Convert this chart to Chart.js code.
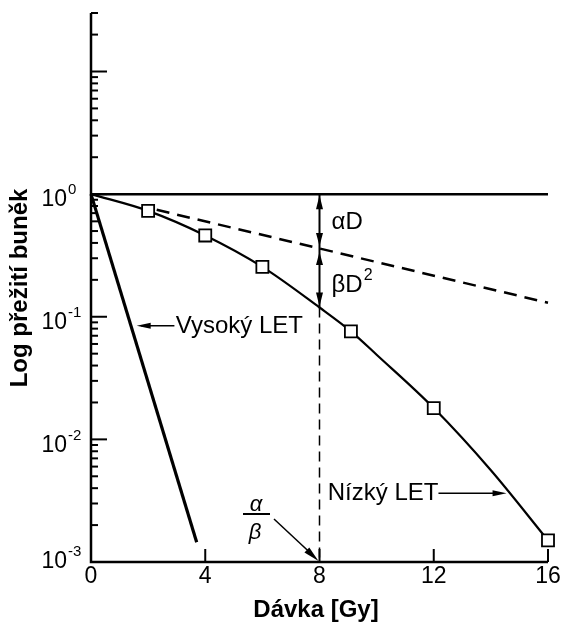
<!DOCTYPE html>
<html>
<head>
<meta charset="utf-8">
<script src="https://cdn.jsdelivr.net/npm/chart.js@4"></script>
<style>
  body { margin: 0; background: #fff; }
  #wrap { width: 562px; height: 622px; }
</style>
</head>
<body>
<div id="wrap"><canvas id="grafico"></canvas></div>
<script>
// Data
const horizX = [0, 16];
const horizY = [1, 1];
const highLetX = [0, 3.7];
const highLetY = [1, 0.00145];
const alphaOnlyX = [2.3, 16];
const alphaOnlyY = [0.745, 0.13];
const lowLetX = [0, 2, 4, 6, 8, 9.1, 10, 12, 14, 16];
const lowLetY = [1, 0.73, 0.46, 0.255, 0.119, 0.076, 0.049, 0.018, 0.0056, 0.0015];
const markerX = [2, 4, 6, 9.1, 12, 16];
const markerY = [0.73, 0.46, 0.255, 0.076, 0.018, 0.0015];
// dose where alpha D = beta D^2
const ratioDose = 8;
const ratioLevels = [1, 0.357, 0.119, 0.001];

const xTicks = [0, 4, 8, 12, 16];
const yExponents = [0, -1, -2, -3];
const xMin = 0, xMax = 16, yMin = 0.001, yMax = 30;

const FONT = '"Liberation Sans", Arial, sans-serif';

const pts = (xs, ys) => xs.map((v, i) => ({ x: v, y: ys[i] }));

function arrowHead(ctx, tx, ty, fx, fy, len, half) {
  const a = Math.atan2(ty - fy, tx - fx);
  ctx.beginPath();
  ctx.moveTo(tx, ty);
  ctx.lineTo(tx - len * Math.cos(a) + half * Math.sin(a), ty - len * Math.sin(a) - half * Math.cos(a));
  ctx.lineTo(tx - len * Math.cos(a) - half * Math.sin(a), ty - len * Math.sin(a) + half * Math.cos(a));
  ctx.closePath();
  ctx.fill();
}

const overlay = {
  id: 'overlay',
  afterDatasetsDraw(chart) {
    const { ctx, scales: { x, y } } = chart;
    const px = v => x.getPixelForValue(v);
    const py = v => y.getPixelForValue(v);
    ctx.save();
    ctx.strokeStyle = '#000';
    ctx.fillStyle = '#000';
    ctx.lineCap = 'butt';

    // ejes
    ctx.lineWidth = 2.5;
    ctx.beginPath();
    ctx.moveTo(px(xMin), py(yMax));
    ctx.lineTo(px(xMin), py(yMin));
    ctx.lineTo(px(xMax), py(yMin));
    ctx.stroke();

    // ticks eje y (logaritmico, hacia dentro)
    ctx.lineWidth = 2;
    for (let e = -3; e <= 1; e++) {
      for (let m = 1; m <= 9; m++) {
        const v = m * Math.pow(10, e);
        if (v > yMax * 1.0001) break;
        const len = m === 1 ? 16 : 7;
        ctx.beginPath();
        ctx.moveTo(px(xMin), py(v));
        ctx.lineTo(px(xMin) + len, py(v));
        ctx.stroke();
      }
    }
    // ticks eje x
    xTicks.slice(1).forEach(t => {
      ctx.beginPath();
      ctx.moveTo(px(t), py(yMin));
      ctx.lineTo(px(t), py(yMin) - 13);
      ctx.stroke();
    });

    // etiquetas eje x
    ctx.font = '23px ' + FONT;
    ctx.textAlign = 'center';
    ctx.textBaseline = 'middle';
    xTicks.forEach(t => ctx.fillText(String(t), px(t), py(yMin) + 15));

    // etiquetas eje y: 10^n
    yExponents.forEach(e => {
      const yy = py(Math.pow(10, e)) + (e === -3 ? 0 : 6);
      ctx.font = '23px ' + FONT;
      ctx.textAlign = 'right';
      ctx.fillText('10', 67, yy);
      ctx.font = '15px ' + FONT;
      ctx.textAlign = 'left';
      ctx.fillText(e === 0 ? '0' : '-' + Math.abs(e), 68, yy - 10);
    });

    // titulos
    ctx.font = 'bold 24px ' + FONT;
    ctx.textAlign = 'center';
    ctx.fillText('Dávka [Gy]', 316, 610);
    ctx.save();
    ctx.translate(20, 288);
    ctx.rotate(-Math.PI / 2);
    ctx.fillText('Log přežití buněk', 0, 0);
    ctx.restore();

    // flechas alpha D / beta D^2
    const xr = px(ratioDose);
    const [l0, l1, l2] = ratioLevels.map(py);
    arrowHead(ctx, xr, l0 + 1, xr, l0 + 20, 14, 3.5);
    arrowHead(ctx, xr, l1 - 3, xr, l1 - 20, 13, 3.5);
    arrowHead(ctx, xr, l1 + 3, xr, l1 + 20, 13, 3.5);
    arrowHead(ctx, xr, l2 - 1, xr, l2 - 20, 14, 3.5);

    ctx.font = '24px ' + FONT;
    ctx.textAlign = 'left';
    ctx.fillText('αD', xr + 12, (l0 + l1) / 2 + 1);
    ctx.fillText('βD', xr + 12, (l1 + l2) / 2 + 7);
    const wBD = ctx.measureText('βD').width;
    ctx.font = '16px ' + FONT;
    ctx.fillText('2', xr + 13 + wBD, (l1 + l2) / 2 - 3);

    // Vysoký LET
    ctx.font = '24px ' + FONT;
    ctx.fillText('Vysoký LET', px(2.97), py(0.083));
    ctx.lineWidth = 1.5;
    ctx.beginPath();
    ctx.moveTo(px(2.92), py(0.083) - 1);
    ctx.lineTo(px(1.75), py(0.083) - 1);
    ctx.stroke();
    arrowHead(ctx, px(1.6), py(0.083) - 1, px(2.87), py(0.083) - 1, 14, 3);

    // Nízký LET
    ctx.fillText('Nízký LET', px(8.29), py(0.00363));
    const wN = ctx.measureText('Nízký LET').width;
    ctx.beginPath();
    ctx.moveTo(px(8.29) + wN, py(0.00363));
    ctx.lineTo(px(14.2), py(0.00363));
    ctx.stroke();
    arrowHead(ctx, px(14.55), py(0.00363), px(12.27), py(0.00363), 14, 3);

    // alpha / beta
    ctx.textAlign = 'center';
    ctx.font = 'italic 22px ' + FONT;
    ctx.fillText('α', 256, 505);
    ctx.fillText('β', 255, 533);
    ctx.lineWidth = 2;
    ctx.beginPath();
    ctx.moveTo(243, 514);
    ctx.lineTo(270, 514);
    ctx.stroke();
    ctx.lineWidth = 1.5;
    ctx.beginPath();
    ctx.moveTo(274, 519);
    ctx.lineTo(xr - 8, py(yMin) - 8);
    ctx.stroke();
    arrowHead(ctx, xr - 1, py(yMin) - 1, 274, 519, 16, 3.5);

    ctx.restore();
  }
};

const line = (data, extra) => Object.assign({
  data: data,
  borderColor: '#000',
  borderWidth: 2,
  pointRadius: 0,
  showLine: true,
  fill: false,
  clip: false,
  order: 2
}, extra);

new Chart(document.getElementById('grafico').getContext('2d'), {
  type: 'scatter',
  data: {
    datasets: [
      {
        data: pts(markerX, markerY),
        pointStyle: 'rect',
        pointRadius: 8.5,
        pointBackgroundColor: '#fff',
        pointBorderColor: '#000',
        pointBorderWidth: 1.8,
        showLine: false,
        clip: false,
        order: 0
      },
      line(pts(lowLetX, lowLetY), { borderWidth: 2.2, cubicInterpolationMode: 'monotone', order: 1 }),
      line(pts(horizX, horizY), { borderWidth: 2.5 }),
      line(pts(highLetX, highLetY), { borderWidth: 3.2 }),
      line(pts(alphaOnlyX, alphaOnlyY), { borderWidth: 2.5, borderDash: [13, 8] }),
      line(pts([ratioDose, ratioDose], [ratioLevels[2], ratioLevels[3]]), { borderWidth: 1.5, borderDash: [10, 6] }),
      line(pts([ratioDose, ratioDose], [ratioLevels[0], ratioLevels[2]]), { borderWidth: 2 })
    ]
  },
  options: {
    responsive: true,
    maintainAspectRatio: false,
    animation: false,
    layout: { padding: { left: 91, right: 14, top: 13, bottom: 60 } },
    plugins: {
      legend: { display: false },
      tooltip: { enabled: false }
    },
    scales: {
      x: { type: 'linear', min: xMin, max: xMax, display: false },
      y: { type: 'logarithmic', min: yMin, max: yMax, display: false }
    }
  },
  plugins: [overlay]
});
</script>
</body>
</html>
